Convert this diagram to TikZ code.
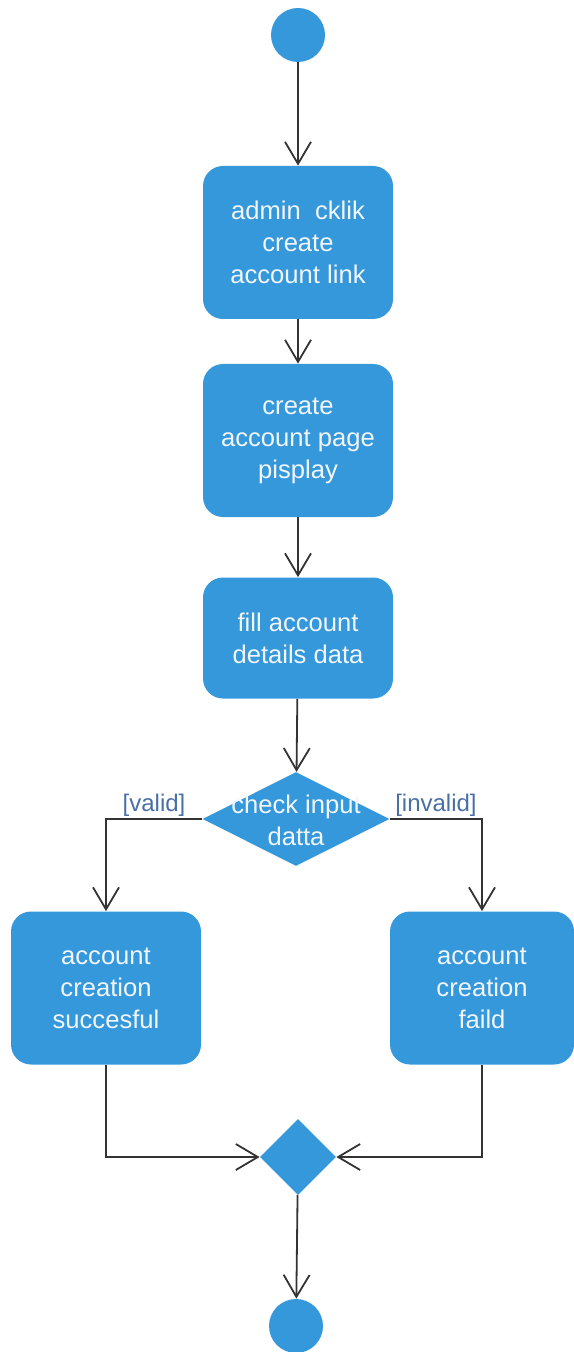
\documentclass[tikz,border=0pt]{standalone}
\usepackage{fontspec}
\setmainfont{Liberation Sans}
\usetikzlibrary{arrows.meta,shapes.geometric}
\definecolor{actblue}{HTML}{3498DB}
\definecolor{acttext}{HTML}{F2F6FC}
\definecolor{guardblue}{HTML}{4A6FA5}
\definecolor{edgegray}{HTML}{333333}
\tikzset{
	action/.style={rectangle, rounded corners=10pt, fill=actblue, text=acttext, align=center, inner sep=0pt, minimum width=95pt, font=\fontsize{12.8}{16}\selectfont},
	decision/.style={diamond, fill=actblue, inner sep=0pt, aspect=2},
	terminal/.style={circle, fill=actblue, inner sep=0pt, minimum size=27pt},
	flow/.style={draw=edgegray, line width=0.9pt, -{Straight Barb[length=11pt,width=13pt,line width=0.9pt]}},
	guard/.style={text=guardblue, font=\fontsize{12}{14}\selectfont, inner sep=1pt}
}

\begin{document}
\begin{tikzpicture}[x=0.5pt, y=-0.5pt]
		%%%%% START %%%%%
		\useasboundingbox (0, 0) rectangle (573, 1352);
		
		\node[terminal] (start) at (298, 35) {};
		
		\node[action, minimum height=76.5pt] (click) at (298, 242.5) {admin\ \ cklik\\create\\account link};
		\node[action, minimum height=76.5pt] (page) at (298, 440.5) {create\\account page\\pisplay};
		\node[action, minimum height=60.5pt] (fill) at (298, 638) {fill account\\details data};
		
		\node[decision, minimum width=93.5pt, minimum height=47pt] (check) at (296, 819) {};
		\node[text=acttext, align=center, font=\fontsize{12.8}{16}\selectfont] (checktxt) at (296, 820) {check input\\datta};
		
		\node[action, minimum height=76.5pt] (ok) at (106, 988) {account\\creation\\succesful};
		\node[action, minimum height=76.5pt, minimum width=92pt] (fail) at (482, 988) {account\\creation\\faild};
		
		\node[decision, aspect=1, minimum width=38pt, minimum height=38pt] (merge) at (298, 1157) {};
		
		\node[terminal] (stop) at (296, 1326) {};
		
		\draw[flow] (start) -- (click);
		\draw[flow] (click) -- (page);
		\draw[flow] (page) -- (fill);
		\draw[flow] (fill) -- (check);
		
		\draw[flow] (check.west) -| node[pos=0.25, above, guard] {[valid]} (ok.north);
		\draw[flow] (check.east) -| node[pos=0.25, above, guard] {[invalid]} (fail.north);
		
		\draw[flow] (ok.south) |- (merge.west);
		\draw[flow] (fail.south) |- (merge.east);
		\draw[flow] (merge) -- (stop);
		%%%%% END %%%%%
\end{tikzpicture}
\end{document}
